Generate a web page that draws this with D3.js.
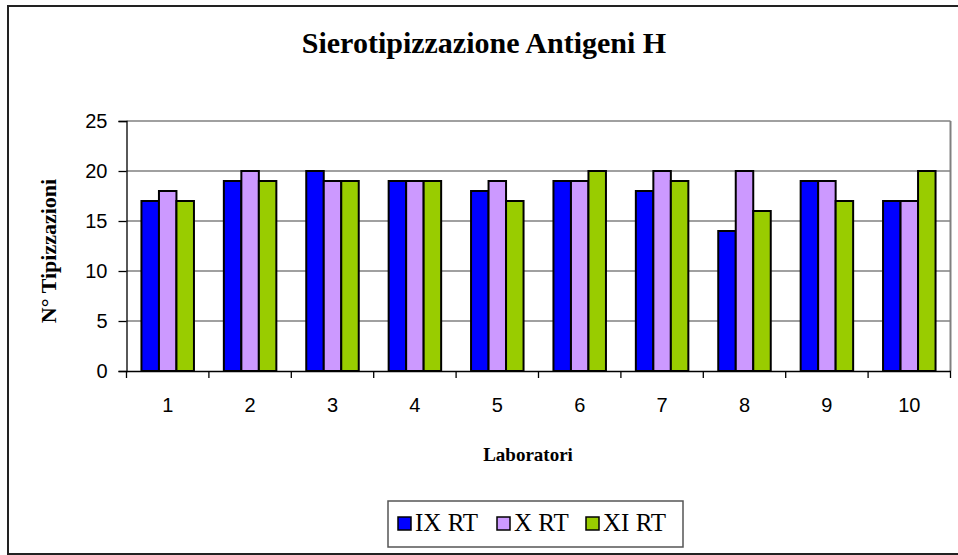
<!DOCTYPE html>
<html lang="it">
<head>
    <meta charset="UTF-8">
    <script src="https://d3js.org/d3.v7.min.js"></script>
    <title>Sierotipizzazione Antigeni H</title>
    <style>
        body { margin: 0; background: #fff; }
    </style>
</head>
<body>
    <script>
        // dati
        var laboratori = ["1","2","3","4","5","6","7","8","9","10"];
        var serie = ["IX RT","X RT","XI RT"];
        var colori = ["#0000ff","#cc99ff","#99cc00"];
        var ixRT = [17,19,20,19,18,19,18,14,19,17];
        var xRT  = [18,20,19,19,19,19,20,20,19,17];
        var xiRT = [17,19,19,19,17,20,19,16,17,20];
        var yTicks = [0,5,10,15,20,25];

        var valori = [ixRT, xRT, xiRT];

        var svg = d3.select("body").append("svg").attr("width",958).attr("height",555);

        // cornice esterna
        svg.append("rect").attr("x",8).attr("y",6).attr("width",960).attr("height",548)
           .attr("fill","#fff").attr("stroke","#222").attr("stroke-width",2);

        var pLeft = 126.5, pRight = 950.5, pTop = 121, pBottom = 371;

        var x = d3.scaleBand().domain(laboratori).range([pLeft,pRight]);
        var xs = d3.scaleBand().domain(serie).range([0,52.5]);
        var y = d3.scaleLinear().domain([0,25]).range([pBottom,pTop]);

        // griglia
        svg.selectAll(".grid").data(yTicks.slice(1)).join("line")
           .attr("x1",pLeft).attr("x2",pRight)
           .attr("y1",d=>y(d)).attr("y2",d=>y(d))
           .attr("stroke","#808080").attr("stroke-width",1.3);

        // bordo destro area grafico
        svg.append("line").attr("x1",pRight).attr("x2",pRight).attr("y1",pTop).attr("y2",pBottom)
           .attr("stroke","#808080").attr("stroke-width",2);

        // barre
        var gruppi = svg.selectAll(".gruppo").data(laboratori).join("g")
           .attr("transform",d=>"translate(" + (x(d) + (x.bandwidth()-52.5)/2) + ",0)");

        gruppi.selectAll("rect").data((d,i)=>serie.map((s,k)=>({s:s, v:valori[k][i], c:colori[k]})))
           .join("rect")
           .attr("x",d=>xs(d.s)).attr("width",xs.bandwidth())
           .attr("y",d=>y(d.v)).attr("height",d=>pBottom-y(d.v))
           .attr("fill",d=>d.c).attr("stroke","#000").attr("stroke-width",2);

        // asse y
        var yAxis = d3.axisLeft(y).tickValues(yTicks).tickSize(8).tickPadding(11);
        var gy = svg.append("g").attr("transform","translate(" + pLeft + ",0)").call(yAxis);
        gy.select(".domain").attr("stroke","#000").attr("stroke-width",1.3);
        gy.selectAll(".tick line").attr("stroke","#000").attr("stroke-width",1.3);
        gy.selectAll("text").style("font-family","Arial, 'Liberation Sans', sans-serif")
          .style("font-size","20px").attr("fill","#000");

        // asse x
        var xAxis = d3.axisBottom(x).tickSize(0).tickPadding(27);
        var gx = svg.append("g").attr("transform","translate(0," + pBottom + ")").call(xAxis);
        gx.select(".domain").attr("stroke","#000").attr("stroke-width",1.3);
        gx.selectAll("text").style("font-family","Arial, 'Liberation Sans', sans-serif")
          .style("font-size","20px").attr("fill","#000");
        // tacche tra le categorie
        var confini = [0].concat(laboratori.map((d,i)=>i+1));
        svg.selectAll(".xtick").data(confini).join("line")
           .attr("x1",d=>pLeft + d*x.step()).attr("x2",d=>pLeft + d*x.step())
           .attr("y1",pBottom).attr("y2",pBottom+7)
           .attr("stroke","#000").attr("stroke-width",1.3);

        // titolo
        svg.append("text").attr("x",484).attr("y",53).attr("text-anchor","middle")
           .style("font-family","'Liberation Serif', 'Times New Roman', serif")
           .style("font-weight","bold").style("font-size","30px")
           .text("Sierotipizzazione Antigeni H");

        // etichette assi
        svg.append("text").attr("x",528).attr("y",461).attr("text-anchor","middle")
           .style("font-family","'Liberation Serif', 'Times New Roman', serif")
           .style("font-weight","bold").style("font-size","19px")
           .text("Laboratori");

        svg.append("text").attr("transform","translate(56,251) rotate(-90)").attr("text-anchor","middle")
           .style("font-family","'Liberation Serif', 'Times New Roman', serif")
           .style("font-weight","bold").style("font-size","22px")
           .text("N° Tipizzazioni");

        // legenda
        var leg = svg.append("g");
        leg.append("rect").attr("x",388).attr("y",501).attr("width",295).attr("height",46)
           .attr("fill","#fff").attr("stroke","#555").attr("stroke-width",1.5);
        var offs = [398, 497, 586];
        var voci = leg.selectAll(".voce").data(serie).join("g")
           .attr("transform",(d,i)=>"translate(" + offs[i] + ",517)");
        voci.append("rect").attr("width",13).attr("height",13)
           .attr("fill",(d,i)=>colori[i]).attr("stroke","#000").attr("stroke-width",1.5);
        voci.append("text").attr("x",17).attr("y",14)
           .style("font-family","'Liberation Serif', 'Times New Roman', serif")
           .style("font-size","25px").text(d=>d);
    </script>
</body>
</html>
